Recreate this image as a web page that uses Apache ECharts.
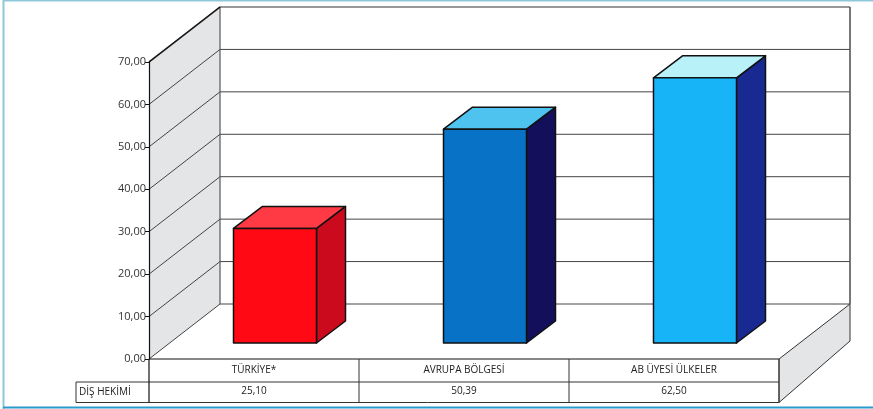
<!DOCTYPE html>
<html>
<head>
<meta charset="utf-8">
<script src="https://cdn.jsdelivr.net/npm/echarts@6/dist/echarts.min.js"></script>
<style>
html,body{margin:0;padding:0;background:#fff;}
#c{width:873px;height:409px;}
</style>
</head>
<body>
<div id="c"></div>
<script>
// ---- data ----
const categories = ['TÜRKİYE*', 'AVRUPA BÖLGESİ', 'AB ÜYESİ ÜLKELER'];
const barValues = [27.0, 50.39, 62.5];           // bar heights as drawn
const tableValues = ['25,10', '50,39', '62,50']; // data table row
const rowHeader = 'DİŞ HEKİMİ';
const yMin = 0, yMax = 70, yInterval = 10;

// ---- styles ----
const palette = [
  { front: '#FF0A14', top: '#FF3A44', side: '#CC0A1E' },
  { front: '#0772C6', top: '#4FC3F0', side: '#130F5A' },
  { front: '#18B4F8', top: '#B8F1F8', side: '#182A92' }
];
const DX = 71, DY = -55;       // wall depth
const FONT = 'Open Sans';

const chart = echarts.init(document.getElementById('c'), null, { renderer: 'canvas' });

const ticks = [];
for (let v = yMin; v <= yMax; v += yInterval) ticks.push(v);

function wallsRender(params, api) {
  const cs = params.coordSys;
  const x0 = cs.x, x1 = cs.x + cs.width;
  const y = v => api.coord([0, v])[1];
  const y0 = y(yMin), yT = y(yMax);
  const bw = cs.width / categories.length;
  const ch = [];
  // left wall
  ch.push({ type: 'polygon', shape: { points: [[x0, y0], [x0, yT], [x0 + DX, yT + DY], [x0 + DX, y0 + DY]] },
    style: { fill: '#E4E5E7' } });
  // back wall
  ch.push({ type: 'rect', shape: { x: x0 + DX, y: yT + DY, width: cs.width, height: y0 - yT },
    style: { fill: '#fff' } });
  // grid lines
  ticks.forEach(v => {
    const yy = y(v);
    ch.push({ type: 'polyline', shape: { points: [[x0, yy], [x0 + DX, yy + DY], [x1 + DX, yy + DY]] },
      style: { stroke: v === yMax ? '#777' : '#444', lineWidth: v === yMax ? 1.6 : 1, fill: null } });
  });
  // back wall edges
  ch.push({ type: 'line', shape: { x1: x0 + DX, y1: yT + DY, x2: x0 + DX, y2: y0 + DY }, style: { stroke: '#555', lineWidth: 1.2 } });
  ch.push({ type: 'line', shape: { x1: x1 + DX, y1: yT + DY, x2: x1 + DX, y2: y0 + DY }, style: { stroke: '#555', lineWidth: 1.6 } });
  // left wall top edge
  ch.push({ type: 'line', shape: { x1: x0, y1: yT, x2: x0 + DX, y2: yT + DY }, style: { stroke: '#111', lineWidth: 1.2 } });
  // slab side (right)
  ch.push({ type: 'polygon', shape: { points: [[x1, y0], [x1 + DX, y0 + DY], [x1 + DX, y0 + DY + 37], [x1, y0 + 43.5]] },
    style: { fill: '#E4E5E7', stroke: '#333', lineWidth: 1 } });
  // floor front & right edge
  ch.push({ type: 'line', shape: { x1: x0, y1: y0, x2: x1, y2: y0 }, style: { stroke: '#111', lineWidth: 1.2 } });
  // table
  const r1 = y0 + 23, r2 = y0 + 43.5, hx = x0 - 73;
  ch.push({ type: 'line', shape: { x1: x0, y1: r1, x2: x1, y2: r1 }, style: { stroke: '#333', lineWidth: 1 } });
  ch.push({ type: 'line', shape: { x1: hx, y1: r1, x2: x0, y2: r1 }, style: { stroke: '#333', lineWidth: 1 } });
  ch.push({ type: 'line', shape: { x1: hx, y1: r2, x2: x1, y2: r2 }, style: { stroke: '#333', lineWidth: 1 } });
  ch.push({ type: 'line', shape: { x1: hx, y1: r1, x2: hx, y2: r2 }, style: { stroke: '#333', lineWidth: 1 } });
  ch.push({ type: 'line', shape: { x1: x0, y1: y0, x2: x0, y2: r2 }, style: { stroke: '#111', lineWidth: 1.2 } });
  for (let k = 1; k <= categories.length; k++) {
    const xx = x0 + k * bw;
    ch.push({ type: 'line', shape: { x1: xx, y1: y0, x2: xx, y2: r2 }, style: { stroke: '#333', lineWidth: 1 } });
  }
  ch.push({ type: 'text', style: { text: rowHeader, x: hx + 3, y: (r1 + r2) / 2, fill: '#222',
    font: '10px "' + FONT + '"', textAlign: 'left', textVerticalAlign: 'middle' } });
  return { type: 'group', children: ch };
}

function barRender(params, api) {
  const i = api.value(0);
  const base = api.coord([i, 0]);
  const top = api.coord([i, api.value(1)]);
  const cx = base[0] + 21, yb = base[1] - 16, yt = top[1] - 16;
  const hw = 41.5, ddx = 29, ddy = -22;
  const c = palette[i];
  const st = { stroke: '#111', lineWidth: 1.5, lineJoin: 'round' };
  return {
    type: 'group',
    children: [
      { type: 'polygon', shape: { points: [[cx + hw, yt], [cx + hw + ddx, yt + ddy], [cx + hw + ddx, yb + ddy], [cx + hw, yb]] },
        style: Object.assign({ fill: c.side }, st) },
      { type: 'polygon', shape: { points: [[cx - hw, yt], [cx + hw, yt], [cx + hw + ddx, yt + ddy], [cx - hw + ddx, yt + ddy]] },
        style: Object.assign({ fill: c.top }, st) },
      { type: 'rect', shape: { x: cx - hw, y: yt, width: 2 * hw, height: yb - yt },
        style: Object.assign({ fill: c.front }, st) }
    ]
  };
}

chart.setOption({
  animation: false,
  backgroundColor: '#fff',
  grid: { left: 149, top: 62, width: 630, height: 297 },
  xAxis: [
    { type: 'category', data: categories, position: 'bottom',
      axisLine: { show: false }, axisTick: { show: false }, splitLine: { show: false },
      axisLabel: { margin: 6, color: '#222', fontSize: 10, fontFamily: FONT } },
    { type: 'category', data: tableValues, position: 'bottom', offset: 23,
      axisLine: { show: false }, axisTick: { show: false }, splitLine: { show: false },
      axisLabel: { margin: 4, color: '#222', fontSize: 10, fontFamily: FONT } }
  ],
  yAxis: {
    type: 'value', min: yMin, max: yMax, interval: yInterval,
    axisLine: { show: true, lineStyle: { color: '#111', width: 1.2 } },
    axisTick: { show: true, length: 4, lineStyle: { color: '#111' } },
    splitLine: { show: false },
    axisLabel: { margin: 3, color: '#333', fontSize: 11, fontFamily: FONT,
      formatter: v => v.toFixed(2).replace('.', ',') }
  },
  graphic: [
    { type: 'line', shape: { x1: 3.5, y1: 0, x2: 3.5, y2: 409 }, style: { stroke: '#8EC8DA', lineWidth: 2 }, z: 100 },
    { type: 'line', shape: { x1: 3, y1: 0.5, x2: 873, y2: 0.5 }, style: { stroke: '#8EC8DA', lineWidth: 2 }, z: 100 },
    { type: 'line', shape: { x1: 3, y1: 407.5, x2: 873, y2: 407.5 }, style: { stroke: '#2A9CCB', lineWidth: 2 }, z: 100 }
  ],
  series: [
    { type: 'custom', name: 'walls', coordinateSystem: 'cartesian2d', clip: false, z: 0,
      renderItem: wallsRender, data: [[0, 0]], silent: true },
    { type: 'custom', name: rowHeader, coordinateSystem: 'cartesian2d', clip: false, z: 5,
      renderItem: barRender, data: barValues.map((v, i) => [i, v]) }
  ]
});
</script>
</body>
</html>
